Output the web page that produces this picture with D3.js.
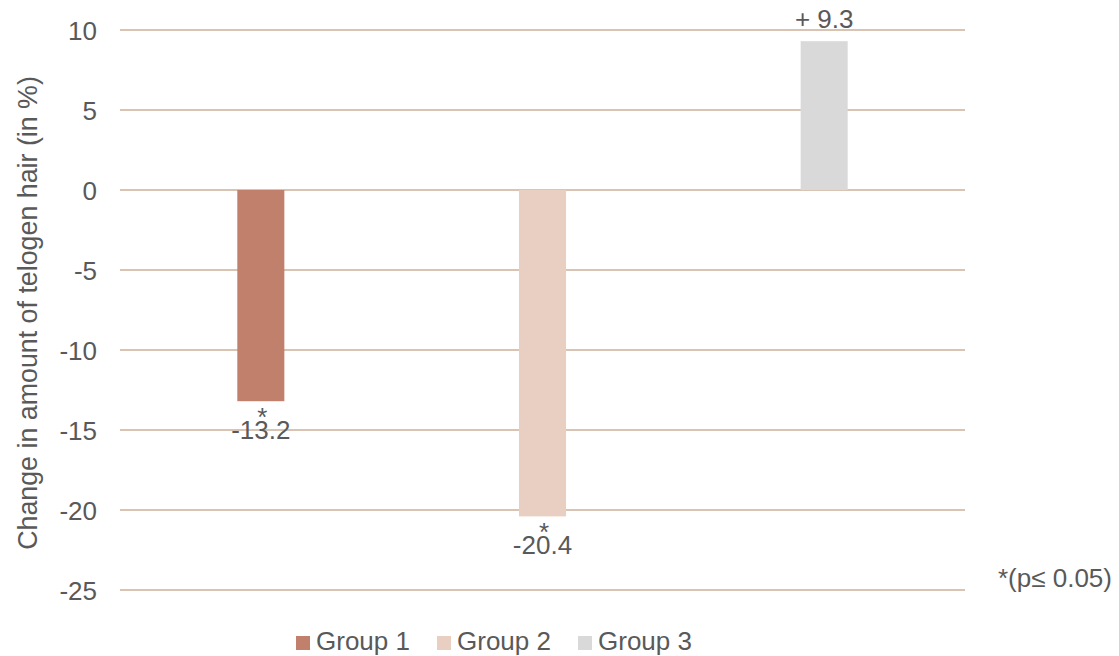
<!DOCTYPE html>
<html>
<head>
<meta charset="utf-8">
<script src="https://cdn.jsdelivr.net/npm/d3@7"></script>
<style>
  html, body { margin: 0; padding: 0; background: #fff; }
  svg { display: block; font-family: "Liberation Sans", Arial, sans-serif; }
</style>
</head>
<body>
<svg id="chart" width="1119" height="656"></svg>
<script>
const categories = ["Group 1", "Group 2", "Group 3"];
const values = [-13.2, -20.4, 9.3];
const valueLabels = ["-13.2", "-20.4", "+ 9.3"];
const significant = [true, true, false];
const colors = ["#c0806b", "#e8cfc1", "#d9d9d9"];
const yTicks = [10, 5, 0, -5, -10, -15, -20, -25];
const yTitle = "Change in amount of telogen hair (in %)";
const footnote = "*(p\u2264 0.05)";

(function () {
const svg = d3.select("#chart");
const mLeft = 120, mRight = 965, mTop = 30, mBottom = 590;
const textColor = "#595959";
const fs = 26;

const x = d3.scaleBand().domain(categories).range([mLeft, mRight]).paddingInner(0).paddingOuter(0);
const y = d3.scaleLinear().domain([-25, 10]).range([mBottom, mTop]);
const barW = x.bandwidth() * 0.167;

// gridlines
svg.append("g").selectAll("line").data(yTicks).join("line")
  .attr("x1", mLeft).attr("x2", mRight)
  .attr("y1", d => y(d)).attr("y2", d => y(d))
  .attr("stroke", "#d9c3b3").attr("stroke-width", 2);

// y axis labels
const yAxis = d3.axisLeft(y).tickValues(yTicks).tickSize(0).tickPadding(0).tickFormat(d => String(d));
const yg = svg.append("g").attr("transform", `translate(${mLeft - 23},0)`).call(yAxis);
yg.select(".domain").remove();
yg.selectAll("text").attr("fill", textColor).attr("font-size", fs).attr("font-family", "Liberation Sans, Arial, sans-serif").attr("dy", "0.35em");

// bars
svg.append("g").selectAll("rect").data(values).join("rect")
  .attr("x", (d, i) => x(categories[i]) + x.bandwidth() / 2 - barW / 2)
  .attr("width", barW)
  .attr("y", d => y(Math.max(0, d)))
  .attr("height", d => Math.abs(y(d) - y(0)))
  .attr("fill", (d, i) => colors[i]);

// value labels
const lbl = svg.append("g").attr("fill", textColor).attr("font-size", fs).attr("text-anchor", "middle");
values.forEach((v, i) => {
  const cx = x(categories[i]) + x.bandwidth() / 2;
  if (v < 0) {
    lbl.append("text").attr("x", cx).attr("y", y(v) + 38).text(valueLabels[i]);
    if (significant[i]) {
      lbl.append("text").attr("x", cx + 1.5).attr("y", y(v) + 25).text("*");
    }
  } else {
    lbl.append("text").attr("x", cx).attr("y", y(v) - 13).text(valueLabels[i]);
  }
});

// y title
svg.append("text")
  .attr("transform", `translate(37,${(mTop + mBottom) / 2 + 3}) rotate(-90)`)
  .attr("text-anchor", "middle")
  .attr("fill", textColor).attr("font-size", 26.8)
  .text(yTitle);

// footnote
svg.append("text").attr("x", 998).attr("y", 587).attr("fill", textColor).attr("font-size", fs).text(footnote);

// legend
const legendX = [296, 437, 578];
const lg = svg.append("g");
categories.forEach((c, i) => {
  lg.append("rect").attr("x", legendX[i]).attr("y", 636).attr("width", 14).attr("height", 14).attr("fill", colors[i]);
  lg.append("text").attr("x", legendX[i] + 20).attr("y", 650).attr("fill", textColor).attr("font-size", fs).text(c);
});
})();
</script>
</body>
</html>
